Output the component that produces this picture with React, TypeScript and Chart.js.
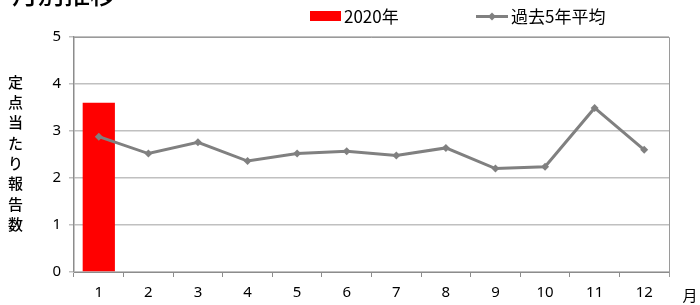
import React, { useEffect, useRef } from "react";
import { Chart, registerables } from "chart.js";

Chart.register(...registerables);

const months = ["1", "2", "3", "4", "5", "6", "7", "8", "9", "10", "11", "12"];
const current2020 = [3.6, null, null, null, null, null, null, null, null, null, null, null];
const avg5yr = [2.88, 2.52, 2.76, 2.36, 2.52, 2.57, 2.48, 2.64, 2.2, 2.24, 3.49, 2.6];
const yTicks = [0, 1, 2, 3, 4, 5];
const titleText = "月別推移";
const yTitle = "定点当たり報告数";
const xTitle = "月";
const barLabel = "2020年";
const lineLabel = "過去5年平均";

const FONT = "'Noto Sans CJK JP', 'Noto Sans', sans-serif";
const NUMFONT = "'Noto Sans', 'Noto Sans CJK JP', sans-serif";

const decor = {
  id: "decor",
  afterDraw(chart: any) {
    const { ctx, chartArea } = chart;
    ctx.save();
    // plot border (top/right)
    ctx.strokeStyle = "#9a9a9a";
    ctx.lineWidth = 1;
    ctx.beginPath();
    ctx.moveTo(chartArea.left, chartArea.top + 0.5);
    ctx.lineTo(chartArea.right + 0.5, chartArea.top + 0.5);
    ctx.lineTo(chartArea.right + 0.5, chartArea.bottom + 5);
    ctx.stroke();
    // title (cut off at top)
    ctx.fillStyle = "#000";
    ctx.font = `500 26px ${FONT}`;
    ctx.textBaseline = "alphabetic";
    ctx.textAlign = "left";
    ctx.fillText(titleText, 12, 4);
    // y title vertical
    ctx.font = `500 15px ${FONT}`;
    ctx.textAlign = "center";
    ctx.textBaseline = "middle";
    const chars = Array.from(yTitle);
    chars.forEach((c, i) => ctx.fillText(c, 15.5, 82 + i * 20.3));
    // x title
    ctx.font = `15px ${FONT}`;
    ctx.fillText(xTitle, 690, 295);
    // legend
    ctx.fillStyle = "#ff0000";
    ctx.fillRect(310, 11, 31, 10);
    ctx.fillStyle = "#000";
    ctx.textAlign = "left";
    ctx.font = `17px ${FONT}`;
    ctx.fillText(barLabel, 344, 17);
    ctx.strokeStyle = "#808080";
    ctx.lineWidth = 3;
    ctx.beginPath();
    ctx.moveTo(476, 16.5);
    ctx.lineTo(508, 16.5);
    ctx.stroke();
    ctx.fillStyle = "#808080";
    ctx.beginPath();
    ctx.moveTo(492, 12.5);
    ctx.lineTo(496, 16.5);
    ctx.lineTo(492, 20.5);
    ctx.lineTo(488, 16.5);
    ctx.closePath();
    ctx.fill();
    ctx.fillStyle = "#000";
    ctx.fillText(lineLabel, 511, 17);
    ctx.restore();
  },
};

export default function App() {
  const ref = useRef<HTMLCanvasElement>(null);
  useEffect(() => {
    document.body.style.margin = "0";
    const chart = new Chart(ref.current!, {
      type: "bar",
      data: {
        labels: months,
        datasets: [
          {
            type: "line",
            label: lineLabel,
            data: avg5yr,
            borderColor: "#808080",
            backgroundColor: "#808080",
            borderWidth: 3,
            pointStyle: "rectRot",
            pointRadius: 4,
            pointBorderWidth: 0,
            tension: 0,
            order: 0,
          } as any,
          {
            type: "bar",
            label: barLabel,
            data: current2020,
            backgroundColor: "#ff0000",
            barPercentage: 0.65,
            categoryPercentage: 1,
            grouped: false,
            order: 1,
          } as any,
        ],
      },
      plugins: [decor],
      options: {
        animation: false,
        responsive: false,
        maintainAspectRatio: false,
        layout: { padding: { left: 0, top: 37, right: 31, bottom: 0 } },
        plugins: { legend: { display: false }, title: { display: false }, tooltip: { enabled: false } },
        scales: {
          x: {
            offset: true,
            grid: {
              offset: true,
              drawOnChartArea: false,
              drawTicks: true,
              tickLength: 5,
              color: "#8c8c8c",
            },
            border: { color: "#8c8c8c", width: 1 },
            ticks: { color: "#000", font: { size: 15, family: NUMFONT }, padding: 7 },
            afterFit(scale: any) {
              scale.height = 33;
            },
          },
          y: {
            min: 0,
            max: 5,
            afterBuildTicks(scale: any) {
              scale.ticks = yTicks.map((v) => ({ value: v }));
            },
            grid: { color: "#c0c0c0", tickLength: 5, lineWidth: 1.5 },
            border: { color: "#8c8c8c", width: 1.5 },
            ticks: { color: "#000", font: { size: 15, family: NUMFONT }, padding: 8 },
            afterFit(scale: any) {
              scale.width = 74;
            },
          },
        },
      },
    });
    return () => chart.destroy();
  }, []);
  return (
    <div style={{ position: "absolute", left: 0, top: 0, width: 700, height: 305 }}>
      <canvas ref={ref} width={700} height={305} style={{ width: 700, height: 305 }} />
    </div>
  );
}
